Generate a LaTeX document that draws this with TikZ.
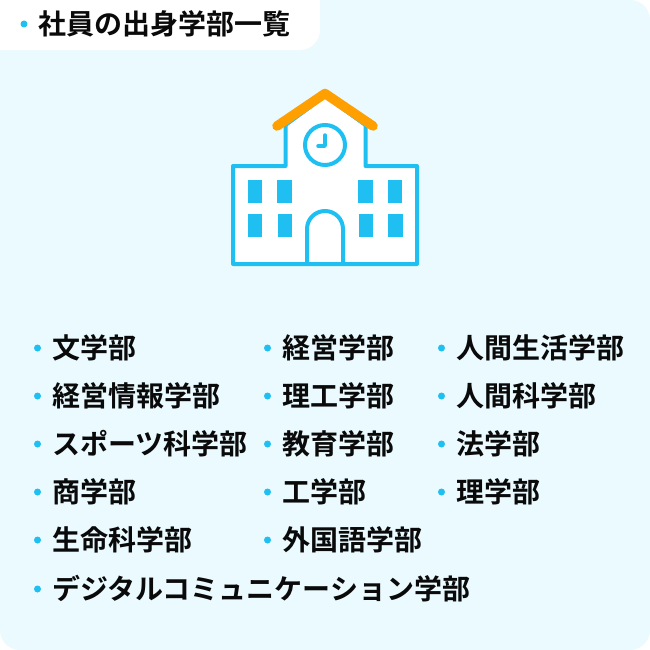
\documentclass[tikz,border=0pt]{standalone}
\usepackage{fontspec}
\newfontfamily\cjk{Noto Sans CJK JP}[BoldFont={* Bold}]
\definecolor{panel}{HTML}{EAFAFF}
\definecolor{sky}{HTML}{1FBFF2}
\definecolor{roof}{HTML}{FF9F00}
\definecolor{ink}{HTML}{0A0A0A}

\begin{document}
\begin{tikzpicture}[
   x = 1pt,
   y = -1pt,
every node/.style = {inner sep=0pt, outer sep=0pt},
       txt/.style = {anchor=west, text=ink,
                     font=\cjk\bfseries\fontsize{28}{30}\selectfont},
       dot/.style = {circle, fill=sky, minimum size=7pt},
      dept/.style = {txt, label={[dot, label distance=11pt]left:{}}},
      line/.style = {draw=sky, line width=4pt, line join=round},
      pane/.style = {fill=sky}
                        ]
%
\useasboundingbox (0,0) rectangle (650,650);
\fill[white] (0,0) rectangle (650,650);
\fill[panel, rounded corners=20pt] (0,0) rectangle (650,650);
% title tab
\fill[white, rounded corners=20pt] (-30,-30) rectangle (320,50);
\node (Title) [dept] at (38.5,24) {社員の出身学部一覧};
%
% school building
\filldraw[line, fill=white] (233,166) -- (285.5,166) -- (285.5,125) -- (325,96)
    -- (365.5,125) -- (365.5,166) -- (417,166) -- (417,264) -- (233,264) -- cycle;
\draw[roof, line width=9.5pt, line cap=round, line join=round]
    (277,126) -- (325,93.5) -- (373,126);
\node (Clock) [circle, draw=sky, line width=4pt, fill=white, minimum size=40pt] at (325,145) {};
\draw[draw=sky, line width=3.5pt, line cap=round, line join=round]
    (Clock.center) ++(-7,1) -- ++(7,0) -- ++(0,-11);
\draw[line] (307,264) -- (307,229) arc[start angle=180, end angle=360, radius=18] -- (343,264);
\fill[pane] (247.5,180) rectangle (261.5,203);
\fill[pane] (277,180) rectangle (291.5,203);
\fill[pane] (358,180) rectangle (372.5,203);
\fill[pane] (387.5,180) rectangle (402,203);
\fill[pane] (248,214) rectangle (262,237);
\fill[pane] (277.5,214) rectangle (292,237);
\fill[pane] (358.5,214) rectangle (373,237);
\fill[pane] (388,214) rectangle (402.5,237);
%
% departments
\node (Bun)    [dept] at (52,348) {文学部};
\node (Keijo)  [dept] at (52,396) {経営情報学部};
\node (Sports) [dept] at (52,444) {スポーツ科学部};
\node (Sho)    [dept] at (52,492) {商学部};
\node (Seimei) [dept] at (52,540) {生命科学部};
\node (Dejita) [dept] at (52,589) {デジタルコミュニケーション学部};
\node (Keiei)  [dept] at (282,348) {経営学部};
\node (Riko)   [dept] at (282,396) {理工学部};
\node (Kyoiku) [dept] at (282,444) {教育学部};
\node (Ko)     [dept] at (282,492) {工学部};
\node (Gaikoku)[dept] at (282,540) {外国語学部};
\node (Seikatsu)[dept] at (456,348) {人間生活学部};
\node (Ningen) [dept] at (456,396) {人間科学部};
\node (Ho)     [dept] at (456,444) {法学部};
\node (Ri)     [dept] at (456,492) {理学部};
    \end{tikzpicture}
\end{document}
